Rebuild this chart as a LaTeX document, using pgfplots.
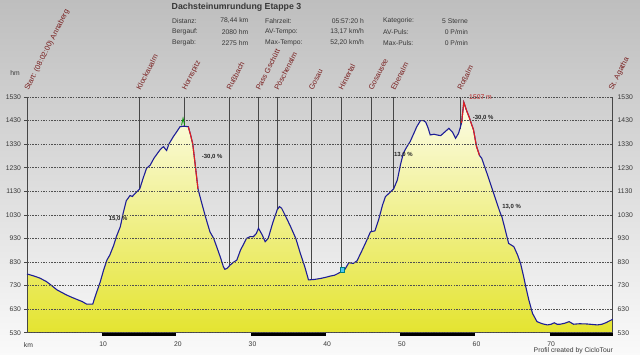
\documentclass[border=0pt]{standalone}
\usepackage{pgfplots}
\pgfplotsset{compat=1.18}
\usepackage{pgfplotstable}
\usepackage{fontspec}
\setmainfont{Liberation Sans}
\definecolor{bgtop}{RGB}{190,190,190}
\definecolor{bgbot}{RGB}{250,250,250}
\definecolor{filltop}{RGB}{252,252,232}
\definecolor{fillbot}{RGB}{228,228,48}
\definecolor{prof}{RGB}{30,30,150}
\definecolor{steep}{RGB}{225,30,30}
\definecolor{wpt}{RGB}{120,30,30}
\definecolor{txt}{RGB}{55,55,55}
\definecolor{gridc}{RGB}{80,80,80}
\definecolor{vline}{RGB}{70,70,70}

\pgfplotstableread{
km h
0 530
0 779
0.8 772
1.7 762
2.6 747
3.3 730
4.0 712
4.7 700
5.3 690
6.0 680
6.7 671
7.4 662
8.0 651
8.8 651
9.2 690
9.8 745
10.3 800
10.7 838
11.1 860
11.6 900
12.0 940
12.5 980
12.9 1040
13.3 1090
13.8 1112
14.1 1108
14.5 1121
15.1 1140
15.5 1180
16.0 1227
16.5 1241
17.0 1270
17.5 1292
17.8 1305
18.1 1315
18.3 1319
18.5 1310
18.7 1303
19.0 1330
19.6 1362
20.0 1380
20.5 1404
21.0 1406
21.6 1404
21.9 1370
22.2 1330
22.5 1250
22.9 1140
23.4 1080
23.9 1022
24.5 958
25.0 930
25.4 895
25.9 850
26.3 810
26.5 799
26.8 803
27.2 817
27.7 830
28.1 838
28.6 881
29.0 905
29.4 930
29.9 938
30.3 937
30.7 950
31.0 973
31.5 945
31.9 916
32.3 930
32.9 995
33.5 1051
33.8 1065
34.1 1058
34.7 1020
35.3 980
36.0 930
36.6 867
37.2 810
37.7 754
38.5 756
39.3 760
40.0 765
40.6 770
41.2 774
41.7 782
42.2 790
42.6 800
43.1 827
43.7 824
44.2 835
44.9 881
45.4 915
46.0 958
46.6 962
47.1 1010
47.6 1070
48.0 1107
48.7 1128
49.1 1140
49.6 1178
50.0 1240
50.4 1291
50.8 1315
51.3 1340
51.8 1375
52.2 1404
52.7 1430
53.1 1430
53.4 1423
53.7 1400
54.0 1369
54.5 1372
54.9 1369
55.4 1366
55.9 1380
56.5 1397
57.0 1380
57.4 1355
57.8 1376
58.2 1420
58.5 1507
58.9 1470
59.2 1446
59.8 1390
60.2 1320
60.6 1282
60.9 1270
61.6 1206
62.5 1121
63.4 1036
63.6 1022
64.1 960
64.5 909
65.2 895
65.7 860
66.1 824
66.5 770
66.8 725
67.2 670
67.7 612
68.3 577
69.0 568
69.7 563
70.2 566
70.6 572
71.0 566
71.4 566
72.0 570
72.6 577
73.2 566
74.0 568
75.0 567
75.7 565
76.4 563
77.0 566
77.5 572
78.0 580
78.44 587
78.44 530
}\profile

\newcommand{\hdr}{\fontsize{6.8}{8}\selectfont}
\newcommand{\wpfont}{\fontsize{7.5}{9}\selectfont}

\begin{document}
\begin{tikzpicture}
\useasboundingbox (0,0) rectangle (640bp,355bp);
\shade[top color=bgtop,bottom color=bgbot] (0,0) rectangle (640bp,355bp);
% header
\node[anchor=west,inner sep=0,font=\fontsize{8.8}{10}\selectfont\bfseries,text=txt] at (171.5bp,347.5bp) {Dachsteinumrundung Etappe 3};
\begin{scope}[every node/.style={inner sep=0,font=\hdr,text=txt}]
\node[anchor=west] at (172bp,334.3bp) {Distanz:};
\node[anchor=west] at (172bp,323.3bp) {Bergauf:};
\node[anchor=west] at (172bp,312.3bp) {Bergab:};
\node[anchor=east] at (248.5bp,334.3bp) {78,44 km};
\node[anchor=east] at (248.5bp,323.3bp) {2080 hm};
\node[anchor=east] at (248.5bp,312.3bp) {2275 hm};
\node[anchor=west] at (265bp,334.3bp) {Fahrzeit:};
\node[anchor=west] at (265bp,323.3bp) {AV-Tempo:};
\node[anchor=west] at (265bp,312.3bp) {Max-Tempo:};
\node[anchor=east] at (364bp,334.3bp) {05:57:20 h};
\node[anchor=east] at (364bp,323.3bp) {13,17 km/h};
\node[anchor=east] at (364bp,312.3bp) {52,20 km/h};
\node[anchor=west] at (383bp,334.3bp) {Kategorie:};
\node[anchor=west] at (383bp,323.3bp) {AV-Puls:};
\node[anchor=west] at (383bp,312.3bp) {Max-Puls:};
\node[anchor=east] at (468bp,334.3bp) {5 Sterne};
\node[anchor=east] at (468bp,323.3bp) {0 P/min};
\node[anchor=east] at (468bp,312.3bp) {0 P/min};
\node at (15bp,282bp) {hm};
\node[anchor=east] at (613bp,4bp) {Profil created by CicloTour};
\end{scope}

\begin{axis}[
  at={(27bp,22.3bp)}, anchor=south west,
  scale only axis, width=585.7bp, height=235.7bp,
  xmin=0, xmax=78.44, ymin=530, ymax=1530,
  clip=false, axis on top,
  axis line style={draw=none},
  xtick={0,10,...,70}, xticklabels={km,10,20,30,40,50,60,70},
  xtick pos=bottom, ytick={530,630,...,1530},
  ytick pos=left, yticklabel pos=left,
  x tick style={draw=none}, y tick style={draw=vline, line width=0.5bp},
  major tick length=2.5bp, tick align=outside,
  ymajorgrids, major grid style={draw=gridc, line width=0.5bp, dash pattern=on 1.5bp off 1.2bp},
  /pgf/number format/assume math mode=true,
  /pgf/number format/1000 sep={},
  xticklabel style={font=\hdr, text=txt, xshift=1.5bp, yshift=-3.5bp},
  yticklabel style={font=\hdr, text=txt, xshift=0bp},
]
% fill
\addplot[draw=none, top color=filltop, bottom color=fillbot] table[x=km,y=h] {\profile};
% waypoint lines
\addplot[vline, line width=0.6bp] coordinates {(15.0,1530)(15.0,1138)};
\addplot[vline, line width=0.6bp] coordinates {(21.1,1530)(21.1,1406)};
\addplot[vline, line width=0.6bp] coordinates {(27.1,1530)(27.1,815)};
\addplot[vline, line width=0.6bp] coordinates {(31.0,1530)(31.0,973)};
\addplot[vline, line width=0.6bp] coordinates {(33.5,1530)(33.5,1051)};
\addplot[vline, line width=0.6bp] coordinates {(38.1,1530)(38.1,755)};
\addplot[vline, line width=0.6bp] coordinates {(42.1,1530)(42.1,790)};
\addplot[vline, line width=0.6bp] coordinates {(46.1,1530)(46.1,958)};
\addplot[vline, line width=0.6bp] coordinates {(49.1,1530)(49.1,1140)};
\addplot[vline, line width=0.6bp] coordinates {(58.0,1530)(58.0,1395)};
% axis lines
\addplot[vline, line width=0.8bp] coordinates {(0,1530)(0,530)(78.44,530)(78.44,1530)};
% profile line
\addplot[prof, line width=1.1bp, restrict y to domain=540:2000] table[x=km,y=h] {\profile};
\addplot[steep, line width=1.1bp] coordinates {(21.6,1404)(21.9,1370)(22.2,1330)(22.5,1250)(22.9,1140)};
\addplot[steep, line width=1.1bp] coordinates {(58.2,1420)(58.5,1507)(58.9,1470)(59.2,1446)(59.8,1390)(60.2,1320)(60.6,1282)};
\addplot[green!60!black, line width=0.8bp] coordinates {(20.7,1410)(20.9,1440)(21.1,1412)};
% marker
\addplot[only marks, mark=square*, mark size=2.2bp, mark options={fill=cyan!70!white, draw=teal}] coordinates {(42.2,797)};
% bottom bars
\addplot[black, line width=2.6bp] coordinates {(10,523.5)(20,523.5)};
\addplot[black, line width=2.6bp] coordinates {(30,523.5)(40,523.5)};
\addplot[black, line width=2.6bp] coordinates {(50,523.5)(60,523.5)};
\addplot[black, line width=2.6bp] coordinates {(70,523.5)(78.44,523.5)};
% waypoint labels
\begin{scope}[every node/.style={rotate=63, anchor=base west, inner sep=0, font=\wpfont, text=wpt}]
\node at (axis cs:0.2,1556) {Start: (08:02:00) Annaberg};
\node at (axis cs:15.2,1556) {Klockaualm};
\node at (axis cs:21.3,1556) {Hornspitz};
\node at (axis cs:27.3,1556) {Rußbach};
\node at (axis cs:31.2,1556) {Pass Gschütt};
\node at (axis cs:33.7,1556) {Pöschenalm};
\node at (axis cs:38.3,1556) {Gosau};
\node at (axis cs:42.3,1556) {Hintertal};
\node at (axis cs:46.3,1556) {Gosausee};
\node at (axis cs:49.3,1556) {Ebenalm};
\node at (axis cs:58.2,1556) {Roßalm};
\node at (axis cs:78.44,1556) {St. Agatha};
\end{scope}
\node[anchor=west, inner sep=0, font=\hdr, text=steep!80!black] at (axis cs:59.2,1530) {1507 m};
% gradient labels
\begin{scope}[every node/.style={inner sep=0, font=\fontsize{6}{7}\selectfont\bfseries, text=black!85}]
\node at (axis cs:12.2,1011) {15,0 \%};
\node at (axis cs:24.8,1277) {-30,0 \%};
\node at (axis cs:50.4,1284) {13,0 \%};
\node at (axis cs:61.1,1440) {-30,0 \%};
\node at (axis cs:64.9,1065) {13,0 \%};
\end{scope}
\end{axis}

\begin{axis}[
  at={(27bp,22.3bp)}, anchor=south west,
  scale only axis, width=585.7bp, height=235.7bp,
  xmin=0, xmax=78.44, ymin=530, ymax=1530,
  axis line style={draw=none}, xtick=\empty,
  ytick={530,630,...,1530}, ytick pos=right, yticklabel pos=right,
  y tick style={draw=none},
  /pgf/number format/assume math mode=true,
  /pgf/number format/1000 sep={},
  yticklabel style={font=\hdr, text=txt, xshift=1.5bp},
]
\addplot[draw=none] coordinates {(0,530)};
\end{axis}
\end{tikzpicture}
\end{document}
